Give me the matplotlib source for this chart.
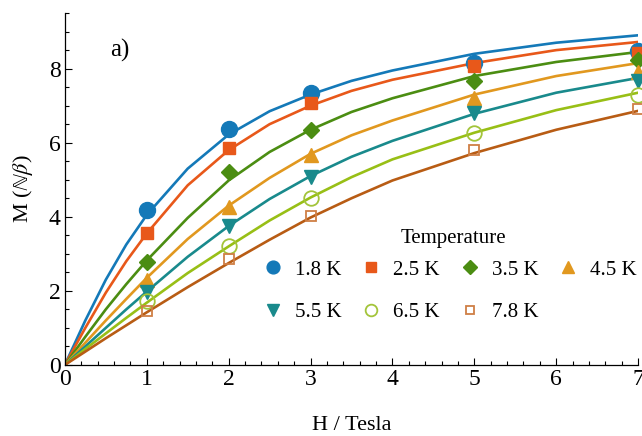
#!/usr/bin/env python3

import numpy as np
from matplotlib import pyplot as plt

plt.rcParams['font.family'] = ['Liberation Serif', 'DejaVu Serif']
plt.rcParams['mathtext.fontset'] = 'stix'

# measured points (H in Tesla)
field_pts = [1, 2, 3, 5, 7]
m_18 = [4.18, 6.38, 7.35, 8.15, 8.47]
m_25 = [3.57, 5.87, 7.08, 8.07, 8.42]
m_35 = [2.79, 5.20, 6.35, 7.67, 8.23]
m_45 = [2.30, 4.26, 5.66, 7.22, 7.92]
m_55 = [1.98, 3.75, 5.08, 6.80, 7.67]
m_65 = [1.72, 3.22, 4.50, 6.27, 7.29]
m_78 = [1.45, 2.87, 4.02, 5.80, 6.90]

# fitted curves
field_fit = [0, 0.25, 0.5, 0.75, 1, 1.5, 2, 2.5, 3, 3.5, 4, 5, 6, 7]
fit_18 = [0, 1.20, 2.30, 3.25, 4.05, 5.30, 6.22, 6.85, 7.30, 7.67, 7.95, 8.40, 8.70, 8.90]
fit_25 = [0, 1.00, 1.95, 2.80, 3.55, 4.85, 5.80, 6.50, 7.00, 7.40, 7.70, 8.15, 8.50, 8.72]
fit_35 = [0, 0.76, 1.50, 2.18, 2.82, 3.97, 4.98, 5.75, 6.35, 6.83, 7.20, 7.80, 8.18, 8.45]
fit_45 = [0, 0.60, 1.20, 1.78, 2.35, 3.40, 4.30, 5.05, 5.70, 6.20, 6.60, 7.30, 7.80, 8.15]
fit_55 = [0, 0.50, 1.00, 1.50, 1.98, 2.92, 3.75, 4.48, 5.10, 5.62, 6.05, 6.78, 7.35, 7.75]
fit_65 = [0, 0.43, 0.85, 1.27, 1.68, 2.48, 3.20, 3.90, 4.52, 5.07, 5.55, 6.27, 6.88, 7.35]
fit_78 = [0, 0.36, 0.72, 1.07, 1.42, 2.10, 2.75, 3.38, 3.98, 4.50, 4.98, 5.72, 6.35, 6.86]

temps = ['1.8 K', '2.5 K', '3.5 K', '4.5 K', '5.5 K', '6.5 K', '7.8 K']

series = [
    # points, curve, line colour, marker, marker size, filled, marker colour
    (m_18, fit_18, '#1479b8', 'o', 11.5, True, '#1479b8'),
    (m_25, fit_25, '#e8581a', 's', 8.5, True, '#e8581a'),
    (m_35, fit_35, '#4b8d12', 'D', 8.5, True, '#4b8d12'),
    (m_45, fit_45, '#e1981f', '^', 10, True, '#e1981f'),
    (m_55, fit_55, '#198a8c', 'v', 10, True, '#198a8c'),
    (m_65, fit_65, '#98bf16', 'o', 10.5, False, '#a3c43a'),
    (m_78, fit_78, '#b85c14', 's', 7.5, False, '#cf7f45'),
]

fig = plt.figure(figsize=(6.42, 4.36), dpi=100)
ax = fig.add_axes([0.101, 0.163, 0.893, 0.807])

handles = []
for (pts, fit, lc, mk, ms, filled, mc), lab in zip(series, temps):
    ax.plot(field_fit, fit, color=lc, lw=1.9, zorder=2)
    h, = ax.plot(field_pts, pts, ls='none', marker=mk, ms=ms,
                 markerfacecolor=mc if filled else 'none',
                 markeredgecolor=mc, markeredgewidth=1.0 if filled else 1.3,
                 label=lab, zorder=3, clip_on=False)
    handles.append(h)

ax.set_xlim(0, 7)
ax.set_ylim(0, 9.5)
ax.set_xticks(np.arange(0, 8, 1))
ax.set_xticks(np.arange(0, 7.01, 0.2), minor=True)
ax.set_yticks([0, 2, 4, 6, 8])
ax.set_yticks(np.arange(0, 9.51, 0.5), minor=True)

for s in ['top', 'right']:
    ax.spines[s].set_visible(False)
for s in ['left', 'bottom']:
    ax.spines[s].set_linewidth(0.9)

ax.tick_params(which='both', direction='in', width=0.8, labelsize=17, pad=3)
ax.tick_params(which='major', length=5)
ax.tick_params(which='minor', length=3)

ax.set_xlabel('H / Tesla', fontsize=16, labelpad=19)
ax.set_ylabel(r'M ($\mathbb{N}\beta$)', fontsize=16, labelpad=10)

ax.text(0.079, 0.895, 'a)', transform=ax.transAxes, fontsize=18, va='center')

# legend fills column-wise, so reorder to get rows of 4
order = [0, 4, 1, 5, 2, 6, 3]
leg = ax.legend([handles[i] for i in order], [temps[i] for i in order],
                ncol=4, frameon=False, fontsize=15,
                markerscale=0.8, handlelength=1.0,
                handletextpad=0.55, columnspacing=0.94, labelspacing=1.1,
                loc='lower left', bbox_to_anchor=(0.312, 0.068))
ax.text(0.677, 0.358, 'Temperature', transform=ax.transAxes, fontsize=15,
        ha='center', va='center')

fig.savefig('out.png', dpi=100)
